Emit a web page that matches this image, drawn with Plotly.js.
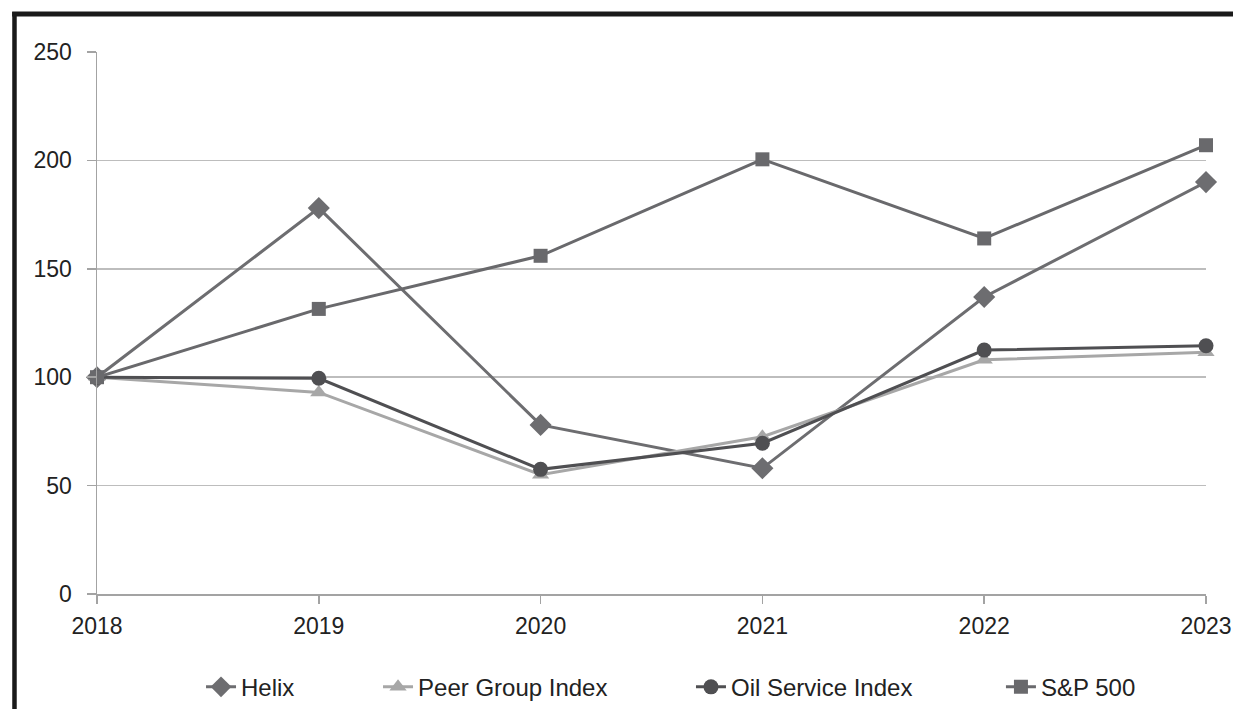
<!DOCTYPE html>
<html>
<head>
<meta charset="utf-8">
<script src="https://cdn.plot.ly/plotly-3.0.1.min.js"></script>
<style>
html,body{margin:0;padding:0;background:#fff;}
#chart{width:1233px;height:709px;}
</style>
</head>
<body>
<div id="chart"></div>
<script>
var years = [2018, 2019, 2020, 2021, 2022, 2023];
var helix = [100, 178, 78, 58, 137, 190];
var peerGroup = [100, 93, 55, 72.5, 108, 111.5];
var oilService = [100, 99.5, 57.5, 69.5, 112.5, 114.5];
var sp500 = [100, 131.5, 156, 200.5, 164, 207];
var yTicks = [0, 50, 100, 150, 200, 250];

var FONT = '"Liberation Sans", Arial, sans-serif';

function mk(name, y, color, symbol, size, legend) {
  return {
    x: years, y: y, name: name, type: 'scatter', mode: 'lines+markers',
    line: {color: color, width: 3},
    marker: {color: color, symbol: symbol, size: size},
    cliponaxis: false,
    legend: legend
  };
}

var data = [
  mk('Helix', helix, '#6d6d70', 'diamond', 17, 'legend'),
  mk('Peer Group Index', peerGroup, '#a7a7a7', 'triangle-up', 15, 'legend2'),
  mk('Oil Service Index', oilService, '#4f4f52', 'circle', 15, 'legend3'),
  mk('S&P 500', sp500, '#69696c', 'square', 14, 'legend4')
];

function leg(x) {
  return {x: x, y: -0.172, xanchor: 'left', yanchor: 'middle', orientation: 'h',
    bgcolor: 'rgba(0,0,0,0)', font: {family: FONT, size: 24, color: '#222'}};
}

var layout = {
  width: 1233, height: 709,
  margin: {l: 97, r: 27, t: 52, b: 115, autoexpand: false},
  paper_bgcolor: '#fff', plot_bgcolor: '#fff',
  font: {family: FONT, size: 22, color: '#222'},
  xaxis: {
    range: [2018, 2023], tickvals: years, ticktext: years.map(String),
    showgrid: false, zeroline: false, automargin: false,
    showline: true, linecolor: '#a3a3a3', linewidth: 1.5,
    ticks: 'outside', ticklen: 8, tickcolor: '#a3a3a3', tickwidth: 1.5,
    ticklabeloverflow: 'allow',
    ticklabelstandoff: 3,
    tickfont: {family: FONT, size: 23, color: '#222'}
  },
  yaxis: {
    range: [0, 250], tickvals: yTicks,
    showgrid: true, gridcolor: '#bdbdbd', gridwidth: 1.5,
    zeroline: false, automargin: false,
    showline: true, linecolor: '#a3a3a3', linewidth: 1.5,
    ticks: 'outside', ticklen: 9, tickcolor: '#a3a3a3', tickwidth: 1.5,
    ticklabelstandoff: 10,
    tickfont: {family: FONT, size: 23, color: '#222'}
  },
  showlegend: true,
  legend: leg(0.0938),
  legend2: leg(0.2534),
  legend3: leg(0.5356),
  legend4: leg(0.8151),
  shapes: [
    {type: 'line', xref: 'paper', yref: 'paper', x0: -0.0744, x1: -0.0744, y0: 1.074, y1: -0.3,
      line: {color: '#1a1a1a', width: 4.5}},
    {type: 'line', xref: 'paper', yref: 'paper', x0: -0.0765, x1: 1.1, y0: 1.0701, y1: 1.0701,
      line: {color: '#1a1a1a', width: 5}}
  ]
};

Plotly.newPlot('chart', data, layout, {displayModeBar: false, staticPlot: true});
</script>
</body>
</html>
